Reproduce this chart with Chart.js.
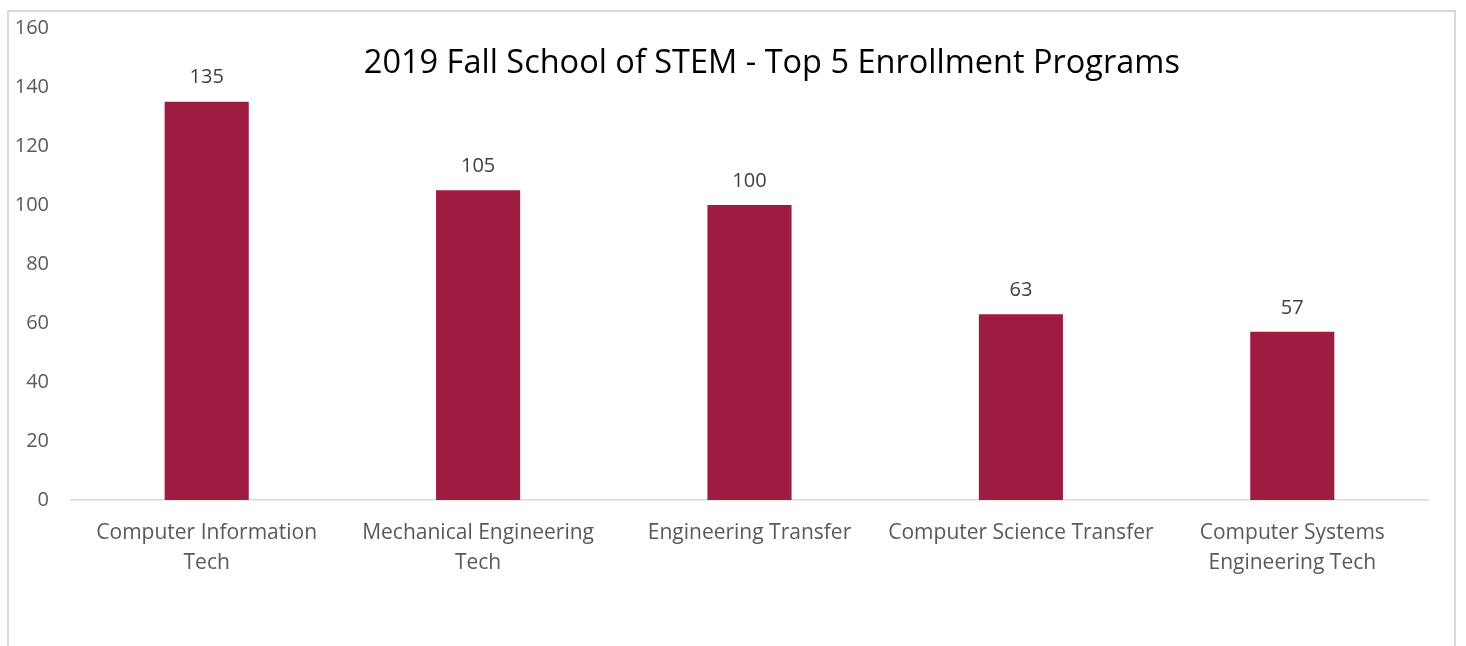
<!DOCTYPE html>
<html>
<head>
<meta charset="utf-8">
<script src="https://cdn.jsdelivr.net/npm/chart.js@4/dist/chart.umd.min.js"></script>
<style>
  html, body { margin: 0; padding: 0; background: #ffffff; overflow: hidden; }
  #frame {
    position: absolute; left: 7px; top: 10px; width: 1449px; height: 700px;
    border: 2px solid #d9d9d9; box-sizing: border-box;
  }
  #wrap { position: absolute; left: 0; top: 0; width: 1466px; height: 646px; }
</style>
</head>
<body>
<div id="frame"></div>
<div id="wrap"><canvas id="chart" width="1466" height="646"></canvas></div>
<script>
const programs = [
  ['Computer Information', 'Tech'],
  ['Mechanical Engineering', 'Tech'],
  'Engineering Transfer',
  'Computer Science Transfer',
  ['Computer Systems', 'Engineering Tech']
];
const enrollment = [135, 105, 100, 63, 57];
const yTicks = [0, 20, 40, 60, 80, 100, 120, 140, 160];
const chartTitle = '2019 Fall School of STEM - Top 5 Enrollment Programs';

const FONT = "'Open Sans', 'Noto Sans', sans-serif";

// numbers printed above each bar
const valueLabels = {
  id: 'valueLabels',
  afterDatasetsDraw(chart) {
    const ctx = chart.ctx;
    const meta = chart.getDatasetMeta(0);
    ctx.save();
    ctx.font = '20px ' + FONT;
    ctx.fillStyle = '#404040';
    ctx.textAlign = 'center';
    ctx.textBaseline = 'middle';
    meta.data.forEach((bar, i) => {
      ctx.fillText(String(enrollment[i]), bar.x, bar.y - 24);
    });
    ctx.restore();
  }
};

// title sits inside the plot area, over the upper part of the bars
const titleInside = {
  id: 'titleInside',
  afterDraw(chart) {
    const ctx = chart.ctx;
    const a = chart.chartArea;
    ctx.save();
    ctx.font = '32.5px ' + FONT;
    ctx.fillStyle = '#000000';
    ctx.textAlign = 'center';
    ctx.textBaseline = 'middle';
    ctx.fillText(chartTitle, a.left + (a.right - a.left) * 0.5165, a.top + 36);
    ctx.restore();
  }
};

new Chart(document.getElementById('chart'), {
  type: 'bar',
  data: {
    labels: programs,
    datasets: [{
      data: enrollment,
      backgroundColor: '#9e1c42',
      borderWidth: 0,
      categoryPercentage: 1.0,
      barPercentage: 0.31
    }]
  },
  options: {
    responsive: false,
    animation: false,
    devicePixelRatio: 1,
    layout: { padding: { left: 0, right: 38, top: 28, bottom: 0 } },
    plugins: { legend: { display: false }, tooltip: { enabled: false }, title: { display: false } },
    scales: {
      x: {
        grid: { display: false, drawTicks: false },
        border: { display: true, color: '#d9d9d9', width: 1.5 },
        ticks: {
          color: '#595959',
          font: { family: FONT, size: 21, lineHeight: 1.43 },
          padding: 18,
          maxRotation: 0,
          autoSkip: false
        },
        afterFit(scale) { scale.height = 146; }
      },
      y: {
        min: 0,
        max: 160,
        afterBuildTicks(scale) { scale.ticks = yTicks.map(v => ({ value: v })); },
        grid: { display: false, drawTicks: false },
        border: { display: false },
        ticks: {
          color: '#595959',
          font: { family: FONT, size: 20 },
          padding: 22
        },
        afterFit(scale) {
          scale.width = 71;
          scale.paddingTop = 0;
          scale.paddingBottom = 0;
        }
      }
    }
  },
  plugins: [valueLabels, titleInside]
});
</script>
</body>
</html>
